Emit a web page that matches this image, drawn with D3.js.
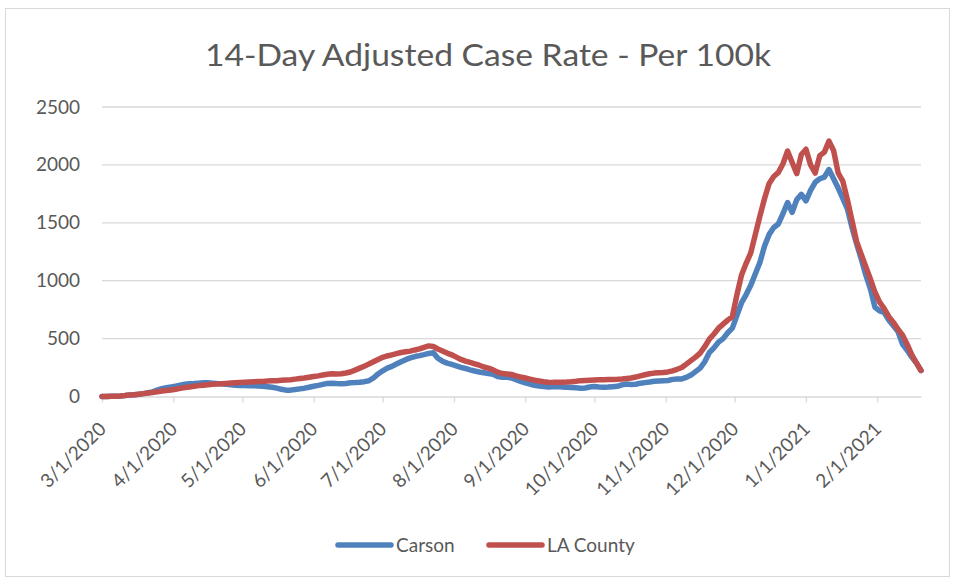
<!DOCTYPE html>
<html>
<head>
<meta charset="utf-8">
<script src="https://cdn.jsdelivr.net/npm/d3@7"></script>
<style>
  body { margin: 0; background: #fff; }
  text { font-family: Lato, "Open Sans", sans-serif; fill: #595959; }
</style>
</head>
<body>
<script>
// data, one value every 2 days from 3/1/2020 to 2/20/2021
var startDate = Date.UTC(2020, 2, 1);
var endDate = Date.UTC(2021, 1, 20);
var dates = d3.utcDay.range(startDate, Date.UTC(2021, 1, 21), 2);

var seriesNames = ["Carson", "LA County"];

var carson = [
  0,0,2,3,5,8,12,16,20,25,
  32,40,55,68,76,82,90,98,106,110,
  112,115,118,118,115,112,110,106,102,98,
  96,95,93,92,90,88,85,80,72,62,
  55,55,60,66,72,80,88,96,105,113,
  115,112,110,113,118,120,123,128,136,160,
  195,222,245,260,280,300,318,333,345,353,
  362,372,378,330,305,288,278,265,252,242,
  230,220,212,205,198,192,172,166,166,160,
  145,130,118,108,96,90,86,82,84,86,
  82,80,78,75,72,74,82,86,82,80,
  82,85,88,100,108,104,106,115,120,125,
  132,134,136,138,148,152,152,165,185,215,
  245,300,380,420,470,500,550,590,700,810,
  880,960,1060,1160,1300,1400,1460,1490,1580,1675,
  1590,1700,1745,1690,1780,1850,1880,1895,1960,1880,
  1800,1710,1620,1460,1320,1190,1050,930,770,740,
  725,660,610,560,450,400,340,290,225
];

var laCounty = [
  0,0,2,3,5,8,12,15,20,25,
  30,35,40,47,52,57,62,70,77,82,
  88,94,98,102,105,108,110,113,116,119,
  122,124,126,128,129,130,133,135,137,140,
  143,145,150,155,160,166,172,178,185,192,
  196,195,196,203,212,228,245,262,280,300,
  320,338,350,360,370,380,386,392,402,411,
  425,437,432,410,392,375,360,340,320,305,
  294,282,270,255,245,230,210,198,195,190,
  178,168,160,150,140,134,128,124,122,123,
  124,125,128,132,137,139,141,143,144,145,
  146,147,149,152,156,160,168,178,188,196,
  202,205,208,212,222,235,250,280,310,340,
  375,430,495,540,590,625,660,690,880,1050,
  1150,1240,1400,1560,1710,1840,1900,1935,2010,2120,
  2020,1925,2090,2135,2000,1930,2080,2110,2205,2125,
  1930,1860,1700,1520,1340,1230,1120,1015,900,815,
  760,690,640,580,530,450,360,290,225
];

var yTicks = [0, 500, 1000, 1500, 2000, 2500];
var colors = ["#4F81BD", "#C0504D"];

var width = 957;
var height = 580;

var svg = d3.select("body")
            .append("svg")
            .attr("width", width)
            .attr("height", height);

// chart frame
svg.append("rect")
   .attr("x", 5.5)
   .attr("y", 8.5)
   .attr("width", 944)
   .attr("height", 568)
   .attr("fill", "#fff")
   .attr("stroke", "#d9d9d9")
   .attr("stroke-width", 1);

svg.append("text")
   .attr("x", 488)
   .attr("y", 66)
   .attr("text-anchor", "middle")
   .attr("textLength", 566)
   .attr("lengthAdjust", "spacingAndGlyphs")
   .style("font-size", "31px")
   .text("14-Day Adjusted Case Rate - Per 100k");

var xScale = d3.scaleUtc()
               .domain([startDate, endDate])
               .range([102, 921]);

var yScale = d3.scaleLinear()
               .domain([0, 2500])
               .range([396.5, 107]);

// gridlines
svg.selectAll(".grid")
   .data(yTicks.slice(1))
   .enter()
   .append("line")
   .attr("class", "grid")
   .attr("x1", 102)
   .attr("x2", 921)
   .attr("y1", function(d){ return yScale(d); })
   .attr("y2", function(d){ return yScale(d); })
   .attr("stroke", "#d9d9d9")
   .attr("stroke-width", 1.3);

// y axis labels
var yAxis = d3.axisLeft(yScale)
              .tickValues(yTicks)
              .tickFormat(d3.format("d"))
              .tickSize(0)
              .tickPadding(22);

var yg = svg.append("g")
            .attr("transform", "translate(102,0)")
            .call(yAxis);
yg.select(".domain").remove();
yg.selectAll("text")
  .style("font-size", "19px")
  .attr("fill", "#595959");

// x axis
var xAxis = d3.axisBottom(xScale)
              .ticks(d3.utcMonth.every(1))
              .tickFormat(d3.utcFormat("%-m/%-d/%Y"))
              .tickSize(6)
              .tickSizeOuter(0);

var xg = svg.append("g")
            .attr("transform", "translate(0," + yScale(0) + ")")
            .call(xAxis);
xg.select(".domain").attr("stroke", "#d9d9d9").attr("stroke-width", 1.3);
xg.selectAll(".tick line").attr("stroke", "#d9d9d9").attr("stroke-width", 1.3);
xg.selectAll("text")
  .style("font-size", "19px")
  .attr("fill", "#595959")
  .attr("text-anchor", "end")
  .attr("y", 0)
  .attr("dy", "0.35em")
  .attr("transform", "translate(0,29) rotate(-45)");

// series lines
var line = d3.line()
             .x(function(d, i){ return xScale(dates[i]); })
             .y(function(d){ return yScale(d); });

var series = [carson, laCounty];

svg.selectAll(".series")
   .data(series)
   .enter()
   .append("path")
   .attr("class", "series")
   .attr("d", line)
   .attr("fill", "none")
   .attr("stroke", function(d, i){ return colors[i]; })
   .attr("stroke-width", 5.5)
   .attr("stroke-linejoin", "round")
   .attr("stroke-linecap", "round");

// legend
var legendX = [338, 489];
var legend = svg.selectAll(".legend")
                .data(seriesNames)
                .enter()
                .append("g")
                .attr("class", "legend")
                .attr("transform", function(d, i){ return "translate(" + legendX[i] + ",545)"; });

legend.append("line")
      .attr("x1", 0)
      .attr("x2", 53)
      .attr("stroke", function(d, i){ return colors[i]; })
      .attr("stroke-width", 5.5)
      .attr("stroke-linecap", "round");

legend.append("text")
      .attr("x", 58)
      .attr("dy", "0.35em")
      .style("font-size", "19px")
      .text(function(d){ return d; });
</script>
</body>
</html>
